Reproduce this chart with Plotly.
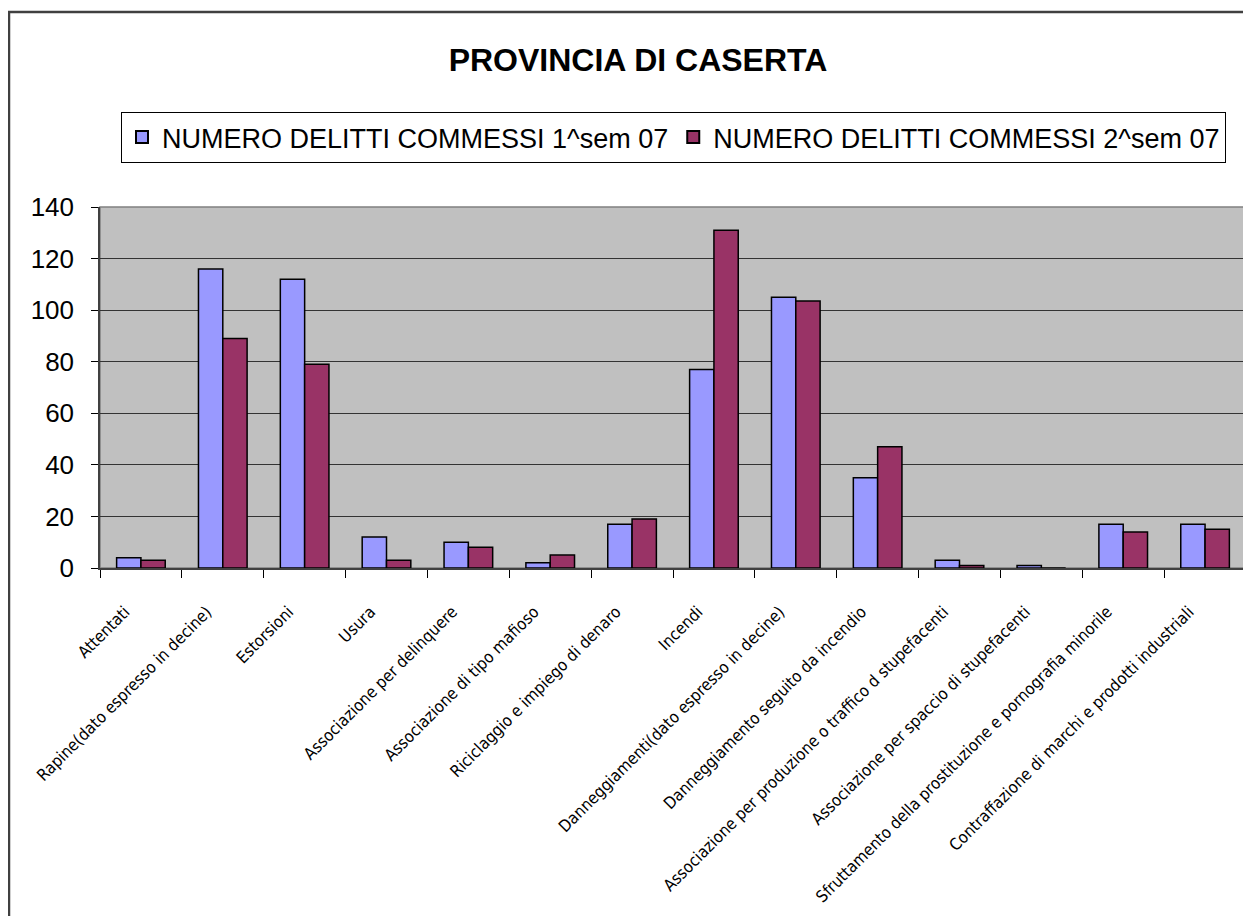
import plotly.graph_objects as go

categories = [
    "Attentati",
    "Rapine(dato espresso in decine)",
    "Estorsioni",
    "Usura",
    "Associazione per delinquere",
    "Associazione di tipo mafioso",
    "Riciclaggio e impiego di denaro",
    "Incendi",
    "Danneggiamenti(dato espresso in decine)",
    "Danneggiamento seguito da incendio",
    "Associazione per produzione o traffico d stupefacenti",
    "Associazione per spaccio di stupefacenti",
    "Sfruttamento della prostituzione e pornografia minorile",
    "Contraffazione di marchi e prodotti industriali",
]
sem1_values = [4, 116, 112, 12, 10, 2, 17, 77, 105, 35, 3, 1, 17, 17]
sem2_values = [3, 89, 79, 3, 8, 5, 19, 131, 103.5, 47, 1, 0, 14, 15]
series_names = ["NUMERO DELITTI COMMESSI 1^sem 07", "NUMERO DELITTI COMMESSI 2^sem 07"]
y_ticks = [0, 20, 40, 60, 80, 100, 120, 140]

# page has an 8px body margin; work in page pixel coords and convert
OFF = 8
W, H = 1251 - OFF, 916 - OFF
PL, PR, PT, PB = 100, 1246, 207, 568  # plot area in page px
L, T = PL - OFF, PT - OFF
R = W - (PR - OFF)
B = H - (PB - OFF)
pw, ph = PR - PL, PB - PT

def px_x(p):
    return (p - PL) / pw

def px_y(p):
    return (PB - p) / ph

fig = go.Figure()
fig.add_trace(go.Bar(x=categories, y=sem1_values, name=series_names[0],
                     marker=dict(color="#9999FF", line=dict(color="black", width=1.5))))
fig.add_trace(go.Bar(x=categories, y=sem2_values, name=series_names[1],
                     marker=dict(color="#993366", line=dict(color="black", width=1.5))))

narrow = "Liberation Sans Narrow, DejaVu Sans Condensed, Liberation Sans, Arial, sans-serif"
sans = "Liberation Sans, Arial, sans-serif"

fig.update_layout(
    width=W, height=H, autosize=False,
    margin=dict(l=L, r=R, t=T, b=B, pad=0),
    paper_bgcolor="white",
    plot_bgcolor="#C0C0C0",
    barmode="group",
    bargap=0.406,
    bargroupgap=0,
    title=dict(text="<b>PROVINCIA DI CASERTA</b>", x=(638 - OFF) / W, xanchor="center",
               y=1 - (60 - OFF) / H, yanchor="middle", xref="container", yref="container",
               font=dict(family=sans, size=32, color="black")),
    legend=dict(orientation="h", x=px_x(121), xanchor="left", y=px_y(112), yanchor="top",
                bgcolor="white", bordercolor="black", borderwidth=1,
                font=dict(family=sans, size=27, color="black"),
                itemsizing="constant", traceorder="normal"),
    showlegend=True,
    xaxis=dict(
        type="category",
        tickangle=-45,
        tickfont=dict(family=narrow, size=16.5, color="black"),
        ticks="outside", ticklen=8, tickcolor="black", tickwidth=1,
        tickson="boundaries",
        showline=True, linecolor="#404040", linewidth=1.5,
        showgrid=False,
        ticklabelstandoff=26,
        ticklabelshift=-16,
    ),
    yaxis=dict(
        range=[0, 140],
        tickvals=y_ticks,
        tickfont=dict(family=sans, size=26, color="black"),
        ticks="outside", ticklen=7, tickcolor="black", tickwidth=1,
        showline=True, linecolor="#404040", linewidth=1.5,
        showgrid=True, gridcolor="#333333", gridwidth=1,
        zeroline=False,
        ticklabelstandoff=12,
    ),
    shapes=[
        dict(type="rect", xref="paper", yref="paper", x0=0, x1=1, y0=0, y1=1,
             line=dict(color="#808080", width=1.5), layer="below"),
        dict(type="rect", xref="paper", yref="paper",
             x0=px_x(9), x1=px_x(1270), y0=px_y(935), y1=px_y(12),
             line=dict(color="#404040", width=2.5), fillcolor="rgba(0,0,0,0)"),
    ],
)

fig.write_html("out.html")
